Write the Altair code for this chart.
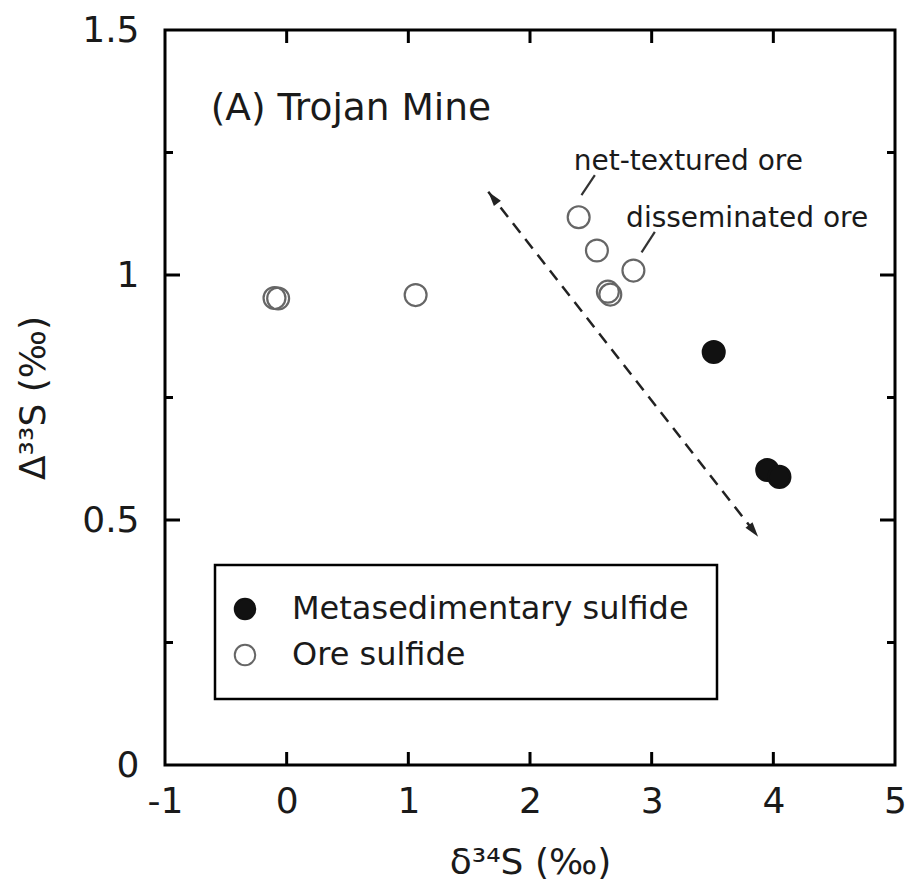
import math
import altair as alt
import pandas as pd

# ---------------- data ----------------
groups = ["Metasedimentary sulfide", "Ore sulfide"]

ore_x = [-0.10, -0.07, 1.06, 2.40, 2.55, 2.64, 2.66, 2.85]
ore_y = [0.953, 0.952, 0.959, 1.118, 1.050, 0.966, 0.960, 1.009]
meta_x = [3.51, 3.95, 4.05]
meta_y = [0.843, 0.602, 0.588]

arrow_x = [1.657, 3.875]
arrow_y = [1.170, 0.466]

leader_x1 = [2.533, 3.026]
leader_y1 = [1.204, 1.088]
leader_x2 = [2.423, 2.917]
leader_y2 = [1.163, 1.046]

note_texts = ["net-textured ore", "disseminated ore"]
note_x = [2.36, 2.79]
note_y = [1.214, 1.098]

panel_text = ["(A) Trojan Mine"]
panel_x = [-0.625]
panel_y = [1.316]

x_ticks = [-1, 0, 1, 2, 3, 4, 5]
y_ticks = [0, 0.5, 1, 1.5]
y_minor = [0.25, 0.75, 1.25]

x_title = "δ³⁴S (‰)"
y_title = "Δ³³S (‰)"

# ---------------- layout ----------------
W, H = 730, 735
FONT = "DejaVu Sans"
TXT = "#1a1a1a"

xs = alt.Scale(domain=[x_ticks[0], x_ticks[-1]], nice=False, zero=False)
ys = alt.Scale(domain=[y_ticks[0], y_ticks[-1]], nice=False, zero=False)

X = alt.X("x:Q", scale=xs, title=x_title,
          axis=alt.Axis(values=x_ticks, labelExpr="datum.value + ''",
                        labelPadding=19, labelFlush=False, titleX=W / 2, titleY=97,
                        titleBaseline="middle"))
Y = alt.Y("y:Q", scale=ys, title=y_title,
          axis=alt.Axis(values=y_ticks, labelExpr="datum.value + ''",
                        labelPadding=26, labelFlush=False, titleX=-132, titleY=H / 2,
                        titleBaseline="middle"))

pts = pd.DataFrame({
    "x": meta_x + ore_x,
    "y": meta_y + ore_y,
    "type": [groups[0]] * len(meta_x) + [groups[1]] * len(ore_x),
})

LEG_EXPR = "datum.label + '\u00a0\u00a0\u00a0\u00a0'"

points = alt.Chart(pts).mark_point(
    shape="circle", filled=True, opacity=1, strokeWidth=2.2, size=480
).encode(
    x=X, y=Y,
    fill=alt.Fill("type:N", scale=alt.Scale(domain=groups, range=["#111111", "transparent"]),
                  legend=alt.Legend(title=None, labelExpr=LEG_EXPR)),
    stroke=alt.Stroke("type:N", scale=alt.Scale(domain=groups, range=["#111111", "#666666"]),
                      legend=alt.Legend(title=None, labelExpr=LEG_EXPR)),
)

# inward tick marks
xt = pd.DataFrame({"x": x_ticks[1:-1]})
ytm = pd.DataFrame({"y": y_ticks[1:-1]})
ytn = pd.DataFrame({"y": y_minor})

def vx(df, y0, y1):
    return alt.Chart(df).mark_rule(color="black", strokeWidth=3).encode(
        x=X, y=alt.value(y0), y2=alt.value(y1))

def hy(df, x0, x1):
    return alt.Chart(df).mark_rule(color="black", strokeWidth=3).encode(
        y=Y, x=alt.value(x0), x2=alt.value(x1))

ticks = [
    vx(xt, H, H - 13), vx(xt, 0, 13),
    hy(ytm, 0, 15), hy(ytm, W - 15, W),
    hy(ytn, 0, 8), hy(ytn, W - 8, W),
]

# dashed double-headed arrow
arr = pd.DataFrame({"x": [arrow_x[0]], "y": [arrow_y[0]], "x2": [arrow_x[1]], "y2": [arrow_y[1]]})
arrow_line = alt.Chart(arr).mark_rule(color="#222222", strokeWidth=2.5, strokeDash=[12, 8]).encode(
    x=X, y=Y, x2="x2:Q", y2="y2:Q")

px_x = W / (x_ticks[-1] - x_ticks[0])
px_y = H / (y_ticks[-1] - y_ticks[0])
dx = (arrow_x[1] - arrow_x[0]) * px_x
dy = -(arrow_y[1] - arrow_y[0]) * px_y
end_angle = math.degrees(math.atan2(dx, -dy)) % 360
start_angle = (end_angle + 180) % 360
heads = pd.DataFrame({"x": arrow_x, "y": arrow_y, "a": [start_angle, end_angle]})
arrow_heads = alt.Chart(heads).mark_point(
    shape="M0,0L0.6,2L-0.6,2Z", filled=True, color="#222222", opacity=1, size=220
).encode(x=X, y=Y, angle=alt.Angle("a:Q", scale=None))

# annotation leaders and texts
lead = pd.DataFrame({"x": leader_x1, "y": leader_y1, "x2": leader_x2, "y2": leader_y2})
leaders = alt.Chart(lead).mark_rule(color="#333333", strokeWidth=2.2).encode(
    x=X, y=Y, x2="x2:Q", y2="y2:Q")

notes = alt.Chart(pd.DataFrame({"x": note_x, "y": note_y, "t": note_texts})).mark_text(
    align="left", baseline="alphabetic", font=FONT, fontSize=28, color=TXT
).encode(x=X, y=Y, text="t:N")

panel = alt.Chart(pd.DataFrame({"x": panel_x, "y": panel_y, "t": panel_text})).mark_text(
    align="left", baseline="alphabetic", font=FONT, fontSize=37.5, color=TXT
).encode(x=X, y=Y, text="t:N")

chart = alt.layer(
    *ticks, arrow_line, arrow_heads, leaders, notes, panel, points
).properties(
    width=W, height=H,
    autosize=alt.AutoSizeParams(type="none"),
    padding={"left": 165, "top": 30, "right": 16, "bottom": 128},
).configure_view(
    stroke="black", strokeWidth=3
).configure_axis(
    labelFont=FONT, labelFontSize=36, labelColor=TXT,
    titleFont=FONT, titleFontSize=36, titleColor=TXT, titleFontWeight="normal",
    ticks=False, domain=False, grid=False,
).configure_legend(
    orient="none", legendX=50, legendY=535,
    strokeColor="black", strokeWidth=2.5, fillColor="white",
    padding=28, rowPadding=14, labelOffset=31, labelLimit=0, symbolOffset=-14,
    labelFont=FONT, labelFontSize=32, labelColor=TXT,
    symbolSize=420, symbolStrokeWidth=2,
)

chart.save("out.html", embed_options={"renderer": "svg", "actions": False})
